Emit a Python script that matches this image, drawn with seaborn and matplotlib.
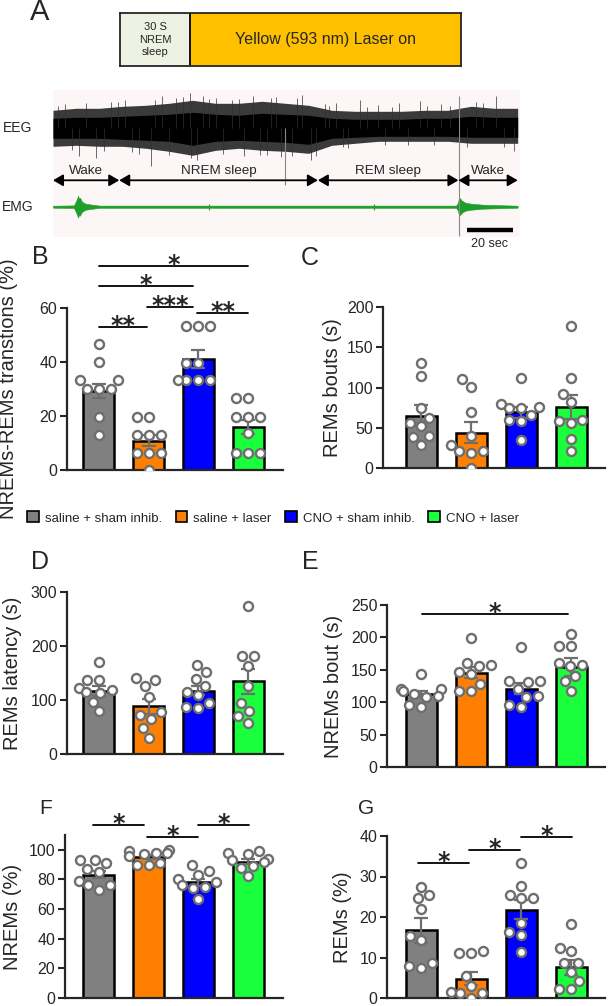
import numpy as np
import pandas as pd
import matplotlib
matplotlib.use("Agg")
import matplotlib.pyplot as plt
import seaborn as sns
from matplotlib.patches import Patch

W, H = 615, 1006

groups = ["saline + sham inhib.", "saline + laser", "CNO + sham inhib.", "CNO + laser"]
colors = ["#808080", "#ff8000", "#0000ff", "#1aff3c"]
pt_edge = "#6e6e6e"

# B - NREMs-REMs transitions (%)
trans_mean = [29.2, 10.9, 41.1, 15.8]
trans_sem = [2.5, 1.9, 3.4, 2.6]
trans_pts = [[46.5, 40, 33.4, 33.4, 30, 30, 30, 19.8, 13],
             [19.8, 19.8, 13, 13, 13, 6.4, 6.4, 6.4, 0],
             [53.2, 53.2, 53.2, 39.8, 39.8, 33.4, 33.4, 33.4, 33.4],
             [26.6, 26.6, 19.8, 19.8, 19.8, 13.6, 6.4, 6.4, 6.4]]

# C - REMs bouts (s)
bout_mean = [65, 44, 69, 76]
bout_sem = [13, 13.5, 7, 15]
bout_pts = [[130, 114, 74, 62, 56, 52, 40, 39, 29],
            [110, 101, 69, 40, 29, 21, 21, 19, 0],
            [112, 79, 76, 75, 74, 66, 60, 58, 35],
            [177, 112, 92, 82, 60, 59, 56, 36, 21]]

# D - REMs latency (s)
lat_mean = [117, 88, 117.5, 135]
lat_sem = [9, 13, 8.5, 23]
lat_pts = [[171, 137, 137, 122, 118, 115, 113, 97, 79],
           [140, 137, 126, 106, 77, 72, 64, 48, 29],
           [165, 151, 139, 126, 114, 109, 95, 87, 85],
           [275, 181, 181, 163, 126, 95, 79, 70, 58]]

# E - NREMs bout (s)
nbout_mean = [113, 145.6, 121, 154]
nbout_sem = [5, 8.5, 8, 14]
nbout_pts = [[143, 120, 120, 118, 112, 110, 108, 95, 92],
             [199, 160, 157, 156, 146, 143, 128, 118, 117],
             [185, 133, 133, 131, 121, 110, 108, 95, 92],
             [205, 186, 186, 160, 158, 156, 140, 132, 117]]

# F - NREMs (%)
nrem_mean = [83.3, 95, 78, 92]
nrem_sem = [2.5, 1.3, 2.4, 1.8]
nrem_pts = [[93, 93, 91, 87, 85, 79, 76, 76, 73],
            [100, 99, 98, 98, 97, 96, 91, 90, 90],
            [89.6, 86, 83, 80, 78, 76, 75, 74, 67],
            [99, 98, 97, 94, 93, 92, 89, 88, 82]]

# G - REMs (%)
rem_mean = [16.7, 4.7, 21.8, 7.6]
rem_sem = [3.0, 1.6, 2.3, 1.9]
rem_pts = [[27.5, 25.5, 24.6, 21.9, 15.4, 14.2, 8.6, 7.8, 7.4],
           [11.7, 11.1, 11.1, 5.5, 2.9, 1.6, 1.2, 1.2, 0],
           [33.3, 27.7, 25.5, 24.8, 24.6, 18.5, 16.2, 15.6, 11.3],
           [18.3, 12.3, 11.5, 8.6, 8.6, 6.3, 4.1, 2.1, 2.1]]

# significance bars: (x start, x end, y, label)
sig_B = [(0, 0.97, 53, "**"), (0.97, 1.9, 60.4, "***"), (1.98, 3.0, 58.1, "**"),
         (0, 1.9, 68.1, "*"), (0, 3.0, 75.6, "*")]
sig_E = [(0.02, 2.94, 236, "*")]
sig_F = [(-0.12, 0.9, 116.7, "*"), (0.97, 2.0, 108.6, "*"), (2.0, 3.02, 116.7, "*")]
sig_G = [(-0.06, 0.96, 33.3, "*"), (0.96, 1.98, 36.5, "*"), (2.0, 3.02, 39.75, "*")]

# panel A trace (time in s, amplitude in a.u.)
protocol_nrem_s = 30
protocol_laser_s = 116
eeg_t = [0, 10, 20, 30, 40, 50, 60, 70, 80, 90, 100, 110, 120, 130, 140, 150, 160, 170, 180, 190, 200]
eeg_hi = [18, 20, 20, 22, 23, 25, 28, 25, 25, 27, 25, 23, 18, 17, 17, 17, 18, 18, 22, 20, 20]
eeg_lo = [-18, -17, -18, -18, -20, -23, -27, -22, -20, -22, -23, -25, -17, -15, -13, -13, -13, -13, -15, -15, -15]
eeg_core_hi = [10, 11, 11, 12, 13, 14, 16, 14, 13, 15, 14, 13, 10, 9, 9, 9, 10, 10, 12, 11, 11]
eeg_core_lo = [-10, -10, -10, -11, -12, -13, -17, -13, -12, -13, -14, -16, -10, -9, -8, -8, -8, -8, -9, -9, -9]
spike_t = [11, 18.6, 31, 42, 47, 59, 59.5, 64.5, 77, 86, 92, 103, 107, 111, 122, 132, 149, 158, 190.7, 198.6,
           5, 25, 37, 53, 70, 82, 96, 117, 127, 140, 167, 182,
           2, 8, 14, 22, 28, 34, 44, 50, 56, 62, 67, 73, 80, 89, 94, 98, 105, 113, 119, 125, 135,
           143, 146, 153, 161, 164, 171, 178, 185, 194]
spike_v = [-28, -30, 28, -38, 32, 35, -30, 32, 28, 32, -27, -28, 33, -32, 25, 28, 25, 27, 32, -23,
           24, 26, -26, 30, 30, -28, 31, 24, -20, 23, 24, 26,
           22, -22, 25, -23, 26, -24, 28, -27, 31, -32, 29, -26, 29, -27, 30, -29, 30, -28, 22, -19, 21,
           -17, 21, -17, 22, -17, 22, -19, 25, -19]
long_spike_t = [100, 174.6]
long_spike_top = [0, 32]
long_spike_bot = [-57, -108]
emg_base = -78.4
emg_t = [0, 9, 10, 10.5, 10.8, 11.2, 11.6, 12.5, 14, 17, 20, 173.5, 174.3, 174.8, 175.3, 176, 177.5, 180, 185, 200]
emg_amp = [1.0, 1.3, 6, 9, 11, 8, 9, 5, 3, 2, 1.1, 1.1, 4, 9, 8, 6, 4, 3, 2, 1.0]
emg_tick_t = [67, 138]
stages = ["Wake", "NREM sleep", "REM sleep", "Wake"]
stage_edges = [0, 28.5, 114, 174.5, 200]
scale_sec = 20

sns.set_style("ticks")
plt.rcParams['font.family'] = ['Liberation Sans', 'DejaVu Sans']
fig = plt.figure(figsize=(W / 100, H / 100), dpi=100)


def px_axes(x0, x1, y_top, y_bot):
    return fig.add_axes([x0 / W, 1 - y_bot / H, (x1 - x0) / W, (y_bot - y_top) / H])


def bar_panel(ax, means, sems, pts, xlim, ylim, yticks, ylabel, label_x, sig=None):
    sns.barplot(x=groups, y=means, hue=groups, order=groups, hue_order=groups, palette=colors,
                saturation=1, legend=False, width=0.62, edgecolor="black", linewidth=1.8, ax=ax)
    ax.errorbar(range(4), means, yerr=sems, fmt="none", ecolor=pt_edge, elinewidth=1.6,
                capsize=5, capthick=1.6, zorder=3)
    df = pd.DataFrame({"group": np.repeat(groups, [len(p) for p in pts]),
                       "val": np.concatenate(pts)})
    sns.swarmplot(data=df, x="group", y="val", order=groups, color="white", edgecolor=pt_edge,
                  linewidth=1.7, size=6.5, ax=ax, zorder=4)
    ax.set_xlim(*xlim)
    ax.set_ylim(*ylim)
    ax.set_yticks(yticks)
    ax.set_xticks([])
    ax.set_xlabel("")
    ax.set_ylabel(ylabel, fontsize=14.5)
    ax.yaxis.set_label_coords(label_x, 0.5)
    for s in ["top", "right"]:
        ax.spines[s].set_visible(False)
    for s in ["left", "bottom"]:
        ax.spines[s].set_linewidth(1.6)
    ax.tick_params(axis="y", length=5, width=1.5, labelsize=11.5, pad=2)
    if sig:
        for x0, x1, y, lab in sig:
            ax.plot([x0, x1], [y, y], color="black", lw=1.3, clip_on=False)
            ax.annotate(lab, xy=((x0 + x1) / 2, y), xytext=(0, -4.5), textcoords="offset points",
                        ha="center", va="baseline", fontsize=17, fontweight="bold",
                        family="DejaVu Sans", annotation_clip=False)


axB = px_axes(67, 283, 308, 470)
bar_panel(axB, trans_mean, trans_sem, trans_pts, (-0.64, 3.7), (0, 60), [0, 20, 40, 60],
          "NREMs-REMs transtions (%)", -0.227, sig_B)
axC = px_axes(383, 605, 307, 468)
bar_panel(axC, bout_mean, bout_sem, bout_pts, (-0.76, 3.68), (0, 200), [0, 50, 100, 150, 200],
          "REMs bouts (s)", -0.185)
axD = px_axes(67, 283, 592, 754)
bar_panel(axD, lat_mean, lat_sem, lat_pts, (-0.64, 3.7), (0, 300), [0, 100, 200, 300],
          "REMs latency (s)", -0.208)
axE = px_axes(387, 605, 605, 767)
bar_panel(axE, nbout_mean, nbout_sem, nbout_pts, (-0.68, 3.68), (0, 250), [0, 50, 100, 150, 200, 250],
          "NREMs bout (s)", -0.20, sig_E)
axF = px_axes(65, 283, 835, 998)
bar_panel(axF, nrem_mean, nrem_sem, nrem_pts, (-0.68, 3.7), (0, 110), [0, 20, 40, 60, 80, 100],
          "NREMs (%)", -0.197, sig_F)
axG = px_axes(387, 605, 836, 998)
bar_panel(axG, rem_mean, rem_sem, rem_pts, (-0.68, 3.68), (0, 40), [0, 10, 20, 30, 40],
          "REMs (%)", -0.16, sig_G)

# legend
handles = [Patch(facecolor=c, edgecolor="black", lw=1.2) for c in colors]
fig.legend(handles, groups, loc="center", bbox_to_anchor=(273 / W, 1 - 518 / H), ncol=4,
           frameon=False, fontsize=9.5, handlelength=0.9, handleheight=0.9,
           handletextpad=0.45, columnspacing=1.0, borderpad=0)

# panel A: protocol box
axBox = px_axes(120, 461, 13, 66)
total = protocol_nrem_s + protocol_laser_s
axBox.axvspan(0, protocol_nrem_s, color="#eef2e2")
axBox.axvspan(protocol_nrem_s, total, color="#ffc000")
axBox.axvline(protocol_nrem_s, color="black", lw=1.3)
axBox.set_xlim(0, total)
axBox.set_ylim(0, 1)
axBox.set_xticks([])
axBox.set_yticks([])
for s in axBox.spines.values():
    s.set_linewidth(1.3)
    s.set_visible(True)
axBox.text(protocol_nrem_s / 2, 0.5, "30 S\nNREM\nsleep", ha="center", va="center",
           fontsize=8, linespacing=1.3)
axBox.text(protocol_nrem_s + protocol_laser_s / 2, 0.5, "Yellow (593 nm) Laser on",
           ha="center", va="center", fontsize=11.5)

# panel A: EEG / EMG trace
axT = px_axes(53, 520, 90, 237)
axT.set_facecolor("#fdf6f6")
axT.vlines(spike_t, 0, spike_v, color="#303030", lw=0.5)
axT.fill_between(eeg_t, eeg_lo, eeg_hi, color="#3a3a3a", lw=0)
axT.fill_between(eeg_t, eeg_core_lo, eeg_core_hi, color="black", lw=0)
axT.vlines(long_spike_t, long_spike_bot, long_spike_top, color="#888888", lw=0.8)
emg_amp = np.array(emg_amp)
axT.fill_between(emg_t, emg_base - emg_amp, emg_base + emg_amp, color="#1e9e2a", lw=0.4)
axT.vlines(emg_tick_t, emg_base - 3, emg_base + 3, color="#1e9e2a", lw=0.8)
for i, name in enumerate(stages):
    t0, t1 = stage_edges[i], stage_edges[i + 1]
    axT.annotate("", xy=(t1, -52), xytext=(t0, -52),
                 arrowprops=dict(arrowstyle="<|-|>,head_length=0.6,head_width=0.35",
                                 color="black", lw=1.3, mutation_scale=10, shrinkA=0, shrinkB=0))
    axT.text((t0 + t1) / 2, -42.7, name, ha="center", va="center", fontsize=9.7)
axT.plot([198 - scale_sec, 198], [-101.7, -101.7], color="black", lw=3.2, solid_capstyle="butt")
axT.text(198 - scale_sec / 2, -115.7, f"{scale_sec} sec", ha="center", va="center",
         fontsize=9, clip_on=False)
axT.set_xlim(0, 201)
axT.set_ylim(-108.7, 38.3)
axT.set_xticks([])
axT.set_yticks([])
for s in axT.spines.values():
    s.set_visible(False)
fig.text(17.5 / W, 1 - 128 / H, "EEG", ha="center", va="center", fontsize=10)
fig.text(17.5 / W, 1 - 207 / H, "EMG", ha="center", va="center", fontsize=10)

# panel letters
for lab, x, y, fs in [("A", 40, 12, 21), ("B", 40, 257, 18), ("C", 310, 258, 18),
                      ("D", 40, 562, 18), ("E", 310, 562, 18), ("F", 46, 808, 15),
                      ("G", 366, 808, 15)]:
    fig.text(x / W, 1 - y / H, lab, ha="center", va="center", fontsize=fs)

fig.savefig("out.png", dpi=100)
